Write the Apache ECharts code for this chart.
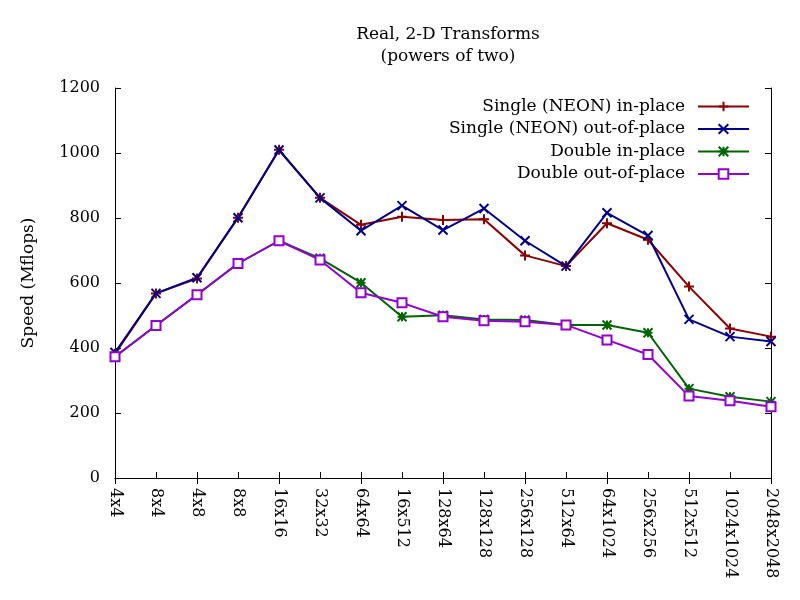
<!DOCTYPE html>
<html><head><meta charset="utf-8">
<script src="https://cdn.jsdelivr.net/npm/echarts@6/dist/echarts.min.js"></script>
<style>html,body{margin:0;padding:0;background:#fff}#c{width:800px;height:600px}</style>
</head><body><div id="c"></div>
<script>
const categories = ['4x4','8x4','4x8','8x8','16x16','32x32','64x64','16x512','128x64','128x128','256x128','512x64','64x1024','256x256','512x512','1024x1024','2048x2048'];
const singleInPlace = [382,568,614,801,1010,862,779,804,794,796,685,652,784,733,589,460,435];
const singleOutPlace = [386,568,616,801,1009,862,761,838,763,829,730,652,816,746,488,435,420];
const doubleInPlace = [373,469,564,660,730,676,601,496,501,488,486,471,471,447,275,250,235];
const doubleOutPlace = [373,469,564,660,730,671,570,539,496,484,481,471,425,380,252,238,219];
const yTicks = [0,200,400,600,800,1000,1200];

const FONT = 'DejaVu Serif';
const FS = 16, FS2 = 17;
const chart = echarts.init(document.getElementById('c'), null, {renderer:'canvas'});
const plus = 'path://M0,5L10,5M5,0L5,10';
const cross = 'path://M0,0L10,10M10,0L0,10';
const star = 'path://M0,0L10,10M10,0L0,10M0,5L10,5M5,0L5,10';
function mk(name, data, color, symbol, size) {
  return {
    name, type:'line', data, symbol, symbolSize:size, showSymbol:true,
    lineStyle:{color, width:2},
    itemStyle:{color, borderColor:color, borderWidth:2},
    emphasis:{disabled:true}, animation:false
  };
}
const option = {
  animation:false,
  title:{
    text:'Real, 2-D Transforms\n(powers of two)',
    left:443, top:19, textAlign:'center',
    textStyle:{fontFamily:FONT, fontSize:FS2, fontWeight:'normal', color:'#000', lineHeight:22}
  },
  legend:{
    orient:'vertical', right:45, top:93, align:'right',
    itemWidth:51, itemHeight:12, itemGap:5.5,
    textStyle:{fontFamily:FONT, fontSize:FS2, color:'#000', padding:[0,8,0,0]},
    data:['Single (NEON) in-place','Single (NEON) out-of-place','Double in-place','Double out-of-place']
  },
  grid:{left:115, right:29, top:88, bottom:122, containLabel:false},
  xAxis:[{
    type:'category', data:categories, boundaryGap:false,
    axisLine:{lineStyle:{color:'#000', width:1}},
    axisTick:{inside:true, length:6, lineStyle:{color:'#000'}, alignWithLabel:true},
    axisLabel:{rotate:-90, margin:10, fontFamily:FONT, fontSize:FS, color:'#000', interval:0},
    splitLine:{show:false}
  },{
    type:'category', data:categories, boundaryGap:false, position:'top',
    axisLine:{lineStyle:{color:'#000', width:1}},
    axisTick:{inside:true, length:6, lineStyle:{color:'#000'}},
    axisLabel:{show:false}, splitLine:{show:false}
  }],
  yAxis:[{
    type:'value', min:yTicks[0], max:yTicks[yTicks.length-1], interval:yTicks[1]-yTicks[0],
    name:'Speed (Mflops)', nameLocation:'middle', nameGap:78, nameRotate:90,
    nameTextStyle:{fontFamily:FONT, fontSize:FS2, color:'#000'},
    axisLine:{show:true, lineStyle:{color:'#000', width:1}},
    axisTick:{show:true, inside:true, length:6, lineStyle:{color:'#000'}},
    axisLabel:{fontFamily:FONT, fontSize:FS, color:'#000', margin:15, formatter:v=>String(v)},
    splitLine:{show:false}
  },{
    type:'value', min:yTicks[0], max:yTicks[yTicks.length-1], interval:yTicks[1]-yTicks[0], position:'right',
    axisLine:{show:true, lineStyle:{color:'#000', width:1}},
    axisTick:{show:true, inside:true, length:6, lineStyle:{color:'#000'}},
    axisLabel:{show:false}, splitLine:{show:false}
  }],
  series:[
    mk('Single (NEON) in-place', singleInPlace, '#8b0000', plus, 10),
    mk('Single (NEON) out-of-place', singleOutPlace, '#00008b', cross, 9),
    mk('Double in-place', doubleInPlace, '#006400', star, 9),
    mk('Double out-of-place', doubleOutPlace, '#9400d3', 'emptyRect', 9)
  ]
};
chart.setOption(option);
</script></body></html>
